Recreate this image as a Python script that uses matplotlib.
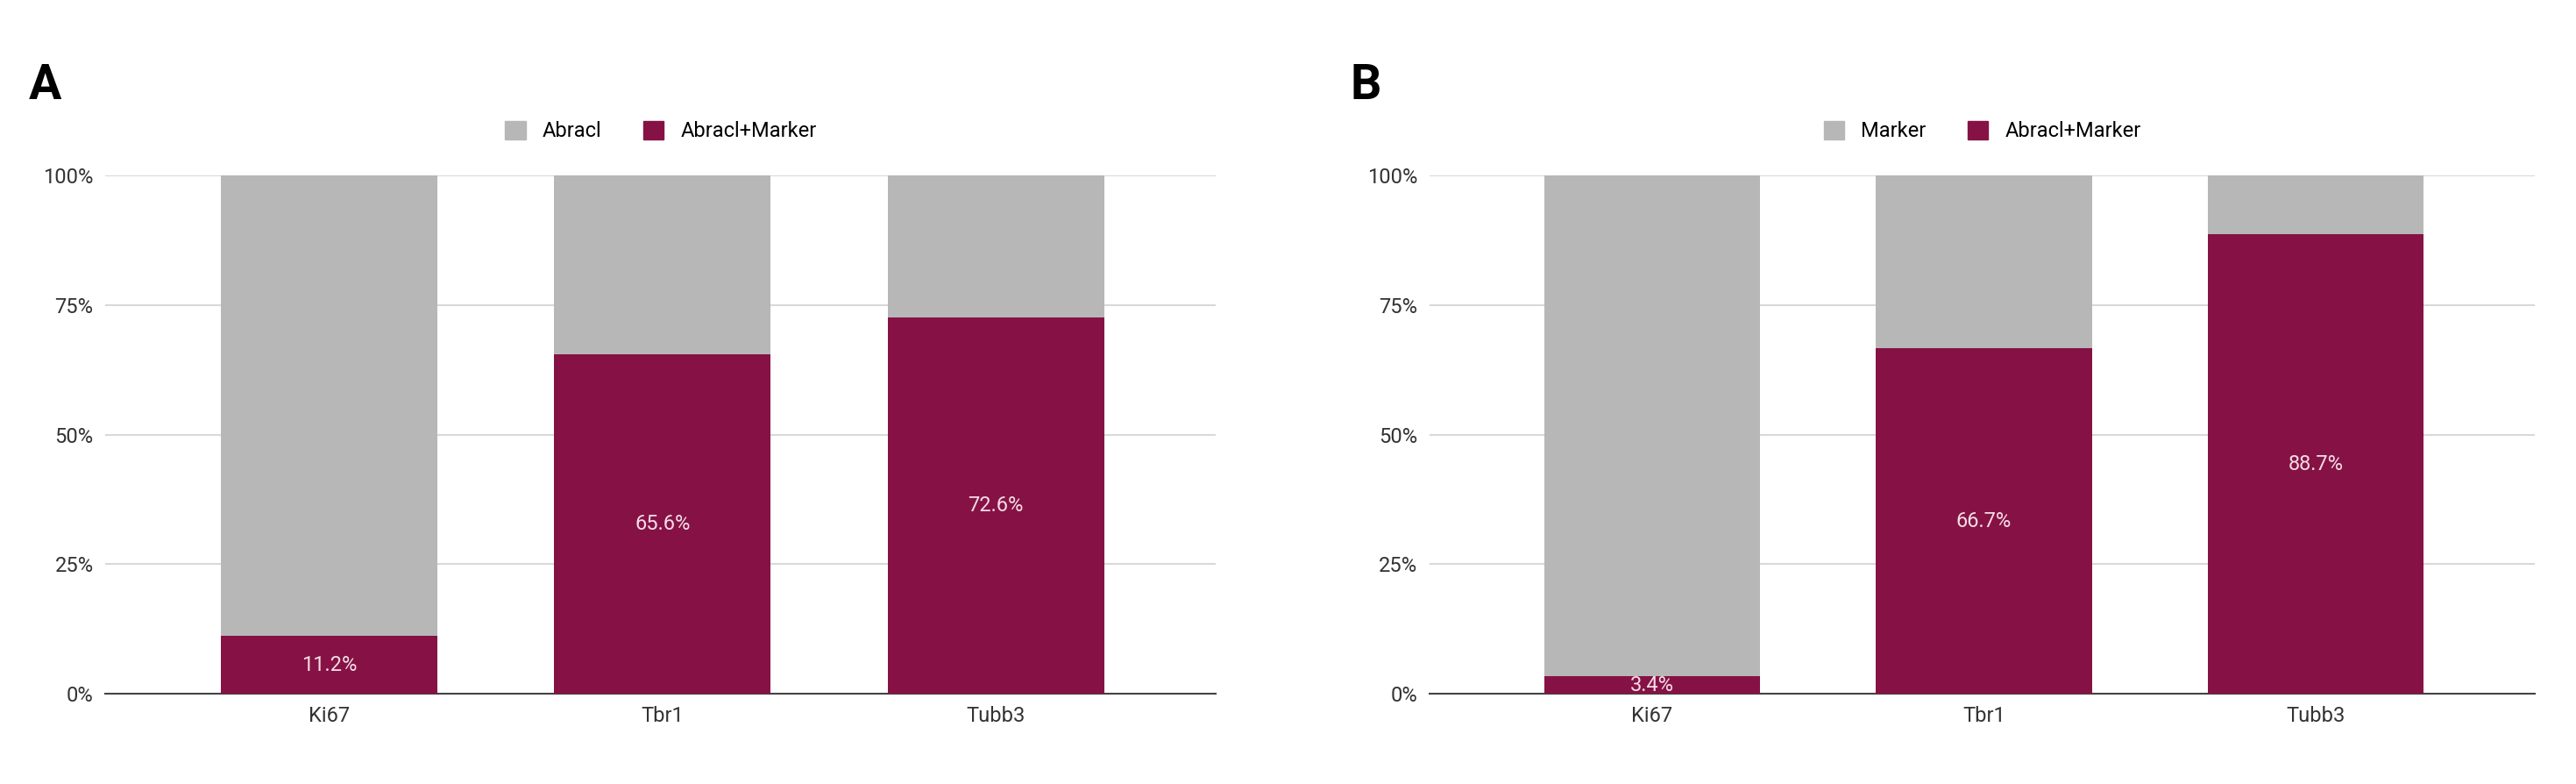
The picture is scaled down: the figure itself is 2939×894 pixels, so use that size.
import matplotlib
matplotlib.use("Agg")
import matplotlib.pyplot as plt
from matplotlib.patches import Patch

categories = ["Ki67", "Tbr1", "Tubb3"]
a_both = [11.2, 65.6, 72.6]
b_both = [3.4, 66.7, 88.7]
a_labels = ["Abracl", "Abracl+Marker"]
b_labels = ["Marker", "Abracl+Marker"]
yticks = [0, 25, 50, 75, 100]

GRAY = "#b7b7b7"
RED = "#861245"

fig = plt.figure(figsize=(29.39, 8.94), dpi=100)
plt.rcParams['font.family'] = ['Roboto', 'DejaVu Sans']

def panel(rect, both, labels, letter, letter_x):
    ax = fig.add_axes(rect)
    x = range(len(categories))
    rest = [100 - v for v in both]
    ax.bar(x, both, width=0.65, color=RED, zorder=3)
    ax.bar(x, rest, bottom=both, width=0.65, color=GRAY, zorder=3)
    for xi, v in zip(x, both):
        ax.text(xi, v / 2, f"{v}%", ha="center", va="center", color="#f4dde6", fontsize=17, zorder=4)
    ax.set_xlim(-0.67, 2.66)
    ax.set_ylim(0, 100)
    ax.set_yticks(yticks)
    ax.set_yticklabels([f"{t}%" for t in yticks])
    ax.set_xticks(list(x))
    ax.set_xticklabels(categories)
    ax.tick_params(length=0, labelsize=17, colors="#333333", pad=10)
    ax.grid(axis="y", color="#d9d9d9", linewidth=1.5, zorder=0)
    for s in ["top", "right", "left"]:
        ax.spines[s].set_visible(False)
    ax.spines["bottom"].set_color("#444444")
    ax.spines["bottom"].set_linewidth(1.5)
    ax.legend(handles=[Patch(color=GRAY), Patch(color=RED)], labels=labels,
              loc="lower center", bbox_to_anchor=(0.5, 1.03), ncol=2, frameon=False,
              fontsize=17, handlelength=1.0, handleheight=1.0, columnspacing=2.0)
    fig.text(letter_x, 0.89, letter, fontsize=40, fontweight="bold", va="center")
    return ax

panel([0.041, 0.115, 0.431, 0.661], a_both, a_labels, "A", 0.011)
panel([0.555, 0.115, 0.429, 0.661], b_both, b_labels, "B", 0.524)

fig.savefig("out.png", dpi=100)
